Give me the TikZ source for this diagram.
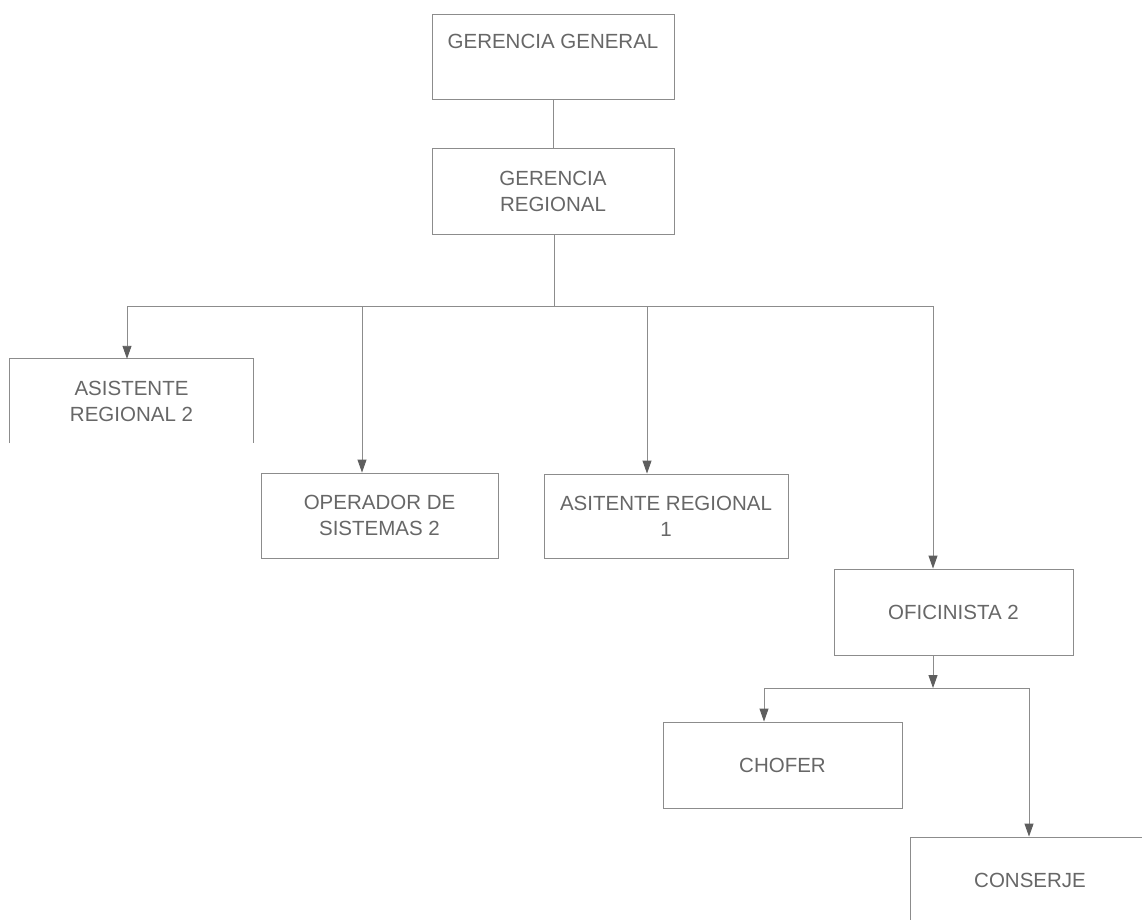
\documentclass[tikz,border=0pt]{standalone}
\usepackage{fontspec}
\setmainfont{Liberation Sans}
\usetikzlibrary{arrows.meta}
\definecolor{linegray}{HTML}{8C8C8C}
\definecolor{textgray}{HTML}{676767}
\definecolor{tipgray}{HTML}{5E5E5E}
\tikzset{
  orgbox/.style={draw=linegray, line width=0.9pt, inner sep=0pt, align=center,
    text=textgray, font=\fontsize{20.5}{26}\selectfont},
  opentop/.style={inner sep=0pt, align=center, text=textgray,
    font=\fontsize{20.5}{26}\selectfont},
  conn/.style={draw=linegray, line width=0.9pt},
  arr/.style={conn, -{Triangle[length=13pt,width=9pt,color=tipgray]}}
}
\begin{document}
\begin{tikzpicture}[x=1pt,y=-1pt]
\clip (0,0) rectangle (1142,920);
\fill[white] (0,0) rectangle (1142,920);

% boxes
\node[orgbox, minimum width=242pt, minimum height=85pt] (gg) at (553,56.5) {};
\node[opentop] (ggt) at (553,41) {GERENCIA GENERAL};
\node[orgbox, minimum width=242pt, minimum height=86pt] (gr) at (553,191) {GERENCIA\\REGIONAL};
\node[opentop, minimum width=243pt, minimum height=84pt] (asr2) at (131.5,401) {ASISTENTE\\REGIONAL 2};
\draw[conn] (asr2.south west) -- (asr2.north west) -- (asr2.north east) -- (asr2.south east);
\node[orgbox, minimum width=237pt, minimum height=85pt] (op) at (379.5,515.5) {OPERADOR DE\\SISTEMAS 2};
\node[orgbox, minimum width=244pt, minimum height=84pt] (asr1) at (666,516) {ASITENTE REGIONAL\\1};
\node[orgbox, minimum width=239pt, minimum height=86pt] (of) at (953.5,612) {OFICINISTA 2};
\node[orgbox, minimum width=239pt, minimum height=86pt] (ch) at (782.5,765) {CHOFER};
\node[orgbox, minimum width=240pt, minimum height=86pt] (co) at (1030,880) {CONSERJE};

% first level
\draw[conn] (gg.south) -- (gr.north);
\coordinate (j1) at (554,306);
\coordinate (a1) at (127,306);
\coordinate (a2) at (362,306);
\coordinate (a3) at (647,306);
\coordinate (a4) at (933,306);
\draw[conn] (gr.south -| j1) -- (j1);
\draw[conn] (a1) -- (a4);
\draw[arr] (a1) -- (a1 |- asr2.north);
\draw[arr] (a2) -- (a2 |- op.north);
\draw[arr] (a3) -- (a3 |- asr1.north);
\draw[arr] (a4) -- (a4 |- of.north);

% second level
\coordinate (j2) at (933,688);
\coordinate (b1) at (764,688);
\coordinate (b2) at (1029,688);
\draw[arr] (of.south -| j2) -- (j2);
\draw[conn] (b1) -- (b2);
\draw[arr] (b1) -- (b1 |- ch.north);
\draw[arr] (b2) -- (b2 |- co.north);
\end{tikzpicture}
\end{document}
